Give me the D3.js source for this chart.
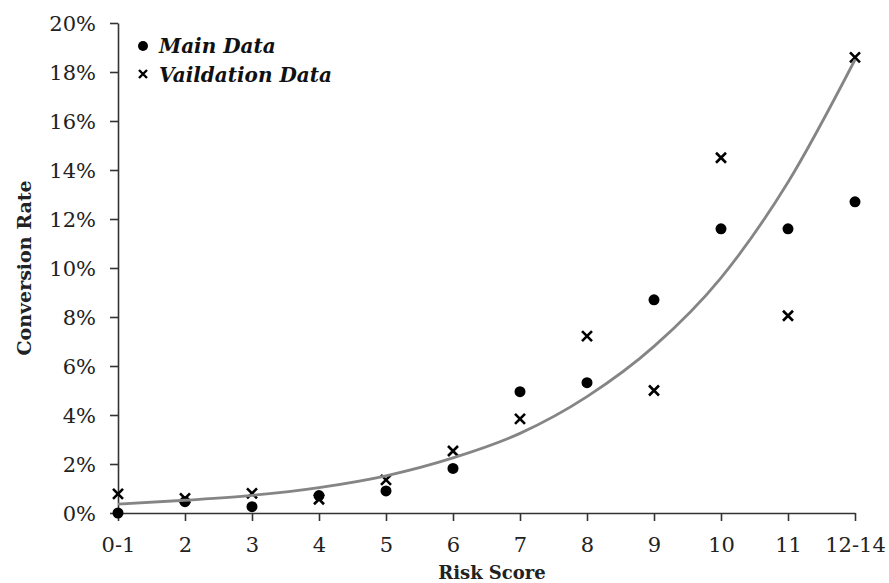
<!DOCTYPE html>
<html>
<head>
<meta charset="utf-8">
<script src="https://cdn.jsdelivr.net/npm/d3@7"></script>
<style>
  body { margin: 0; background: #fff; }
  svg { display: block; }
  .tick text { font-family: "DejaVu Serif", serif; font-size: 21px; fill: #222; }
</style>
</head>
<body>
<svg width="889" height="583"></svg>
<script>
let categories = ['0-1', '2', '3', '4', '5', '6', '7', '8', '9', '10', '11', '12-14'];
let mainData = [0.0, 0.46, 0.26, 0.71, 0.90, 1.82, 4.95, 5.32, 8.7, 11.6, 11.6, 12.7];
let validationData = [0.78, 0.60, 0.80, 0.56, 1.35, 2.53, 3.84, 7.22, 5.0, 14.5, 8.05, 18.6];
let trendData = [0.36, 0.52, 0.72, 1.04, 1.52, 2.25, 3.25, 4.75, 6.8, 9.6, 13.5, 18.5];
let yTicks = [0, 2, 4, 6, 8, 10, 12, 14, 16, 18, 20];

let margin = {top: 23, left: 118}, w = 737, h = 490;
let axisColor = '#333';

var svg = d3.select('svg');
var g = svg.append('g').attr('transform', 'translate(' + margin.left + ',' + margin.top + ')');

var x = d3.scalePoint().domain(categories).range([0, w]);
var y = d3.scaleLinear().domain([0, 20]).range([h, 0]);

// axes
var yAxis = g.append('g')
	.call(d3.axisLeft(y).tickValues(yTicks).tickFormat(function(d) { return d + '%'; }).tickSize(8).tickSizeOuter(0).tickPadding(14));
var xAxis = g.append('g')
	.attr('transform', 'translate(0,' + h + ')')
	.call(d3.axisBottom(x).tickSize(8).tickSizeOuter(0).tickPadding(16));
[xAxis, yAxis].forEach(function(a) {
	a.selectAll('path, line').attr('stroke', axisColor).attr('stroke-width', 1.6);
});
yAxis.selectAll('.tick text').attr('dy', '0.36em');

// points
g.selectAll('circle.main')
	.data(mainData)
	.join('circle')
	.attr('class', 'main')
	.attr('cx', function(d, i) { return x(categories[i]); })
	.attr('cy', function(d) { return y(d); })
	.attr('r', 5.5)
	.attr('fill', '#000');

var s = 5;
g.selectAll('path.val')
	.data(validationData)
	.join('path')
	.attr('class', 'val')
	.attr('transform', function(d, i) { return 'translate(' + x(categories[i]) + ',' + y(d) + ')'; })
	.attr('d', 'M' + -s + ',' + -s + 'L' + s + ',' + s + 'M' + s + ',' + -s + 'L' + -s + ',' + s)
	.attr('stroke', '#000')
	.attr('stroke-width', 2.6)
	.attr('fill', 'none');

// trend line
var line = d3.line()
	.x(function(d, i) { return x(categories[i]); })
	.y(function(d) { return y(d); })
	.curve(d3.curveMonotoneX);
g.append('path')
	.datum(trendData)
	.attr('d', line)
	.attr('fill', 'none')
	.attr('stroke', '#858585')
	.attr('stroke-width', 2.8);

// axis titles
svg.append('text')
	.attr('x', 492)
	.attr('y', 579)
	.attr('text-anchor', 'middle')
	.attr('font-family', '"DejaVu Serif", serif')
	.attr('font-weight', 'bold')
	.attr('font-size', 18)
	.attr('fill', '#222')
	.text('Risk Score');
svg.append('text')
	.attr('transform', 'translate(31,' + (margin.top + h / 2) + ') rotate(-90)')
	.attr('text-anchor', 'middle')
	.attr('font-family', '"DejaVu Serif", serif')
	.attr('font-weight', 'bold')
	.attr('font-size', 19)
	.attr('fill', '#222')
	.text('Conversion Rate');

// legend
var legend = svg.append('g');
legend.append('circle').attr('cx', 143).attr('cy', 46).attr('r', 5).attr('fill', '#000');
legend.append('path')
	.attr('transform', 'translate(143,74)')
	.attr('d', 'M-4,-4L4,4M4,-4L-4,4')
	.attr('stroke', '#000').attr('stroke-width', 2.4);
legend.selectAll('text')
	.data(['Main Data', 'Vaildation Data'])
	.join('text')
	.attr('x', 159)
	.attr('y', function(d, i) { return 53 + i * 29; })
	.attr('font-family', '"DejaVu Serif", serif')
	.attr('font-weight', 'bold')
	.attr('font-style', 'italic')
	.attr('font-size', 20)
	.attr('fill', '#111')
	.text(function(d) { return d; });
</script>
</body>
</html>
